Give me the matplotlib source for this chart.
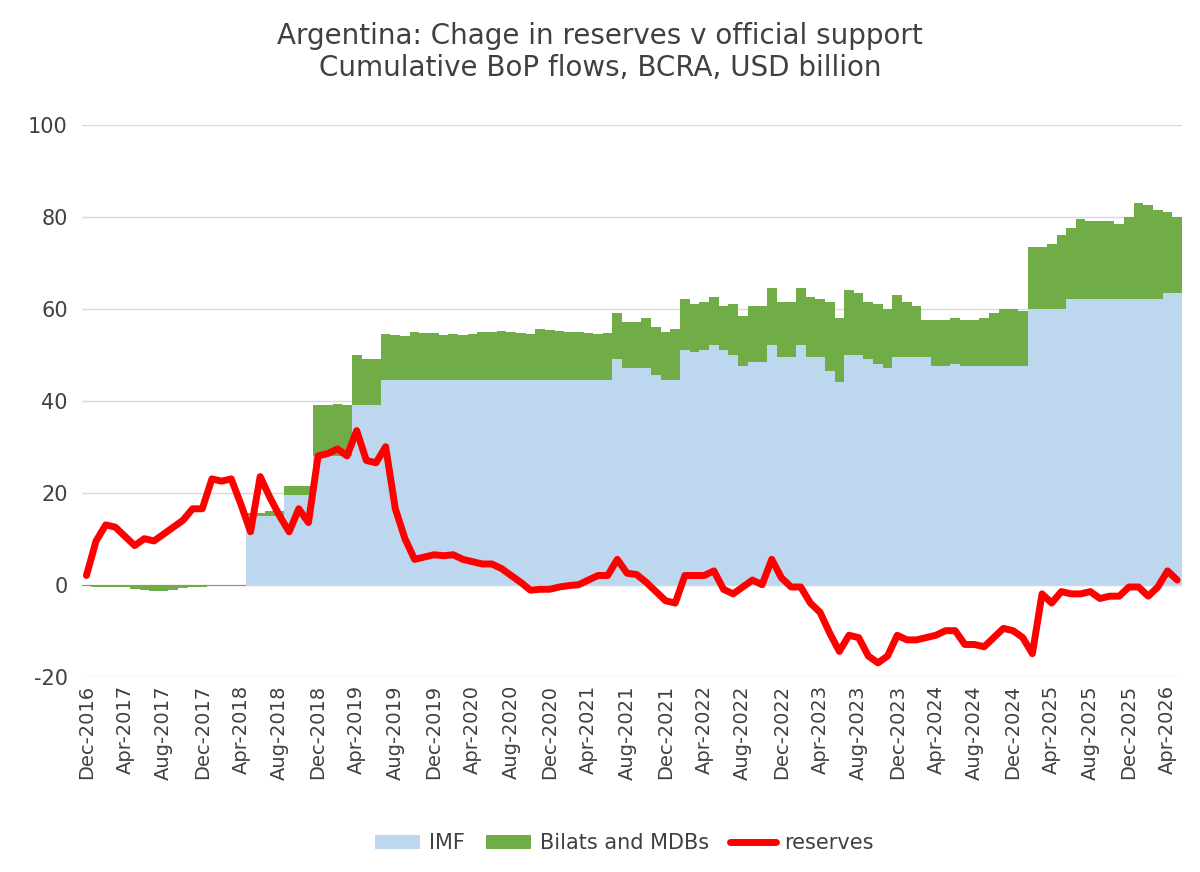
import numpy as np
import pandas as pd
import matplotlib.pyplot as plt

plt.rcParams['axes.unicode_minus'] = False

# monthly, Dec-2016 .. May-2026
months = pd.date_range("2016-12-01", periods=114, freq="MS").strftime("%b-%Y").tolist()

reserves = [2, 9.5, 13, 12.5, 10.5, 8.5, 10, 9.5, 11, 12.5, 14, 16.5, 16.5, 23, 22.5, 23,
            17.5, 11.5, 23.5, 19, 15, 11.5, 16.5, 13.5, 28, 28.5, 29.5, 28, 33.5, 27, 26.5, 30,
            16.5, 10, 5.5, 6, 6.5, 6.3, 6.5, 5.5, 5, 4.5, 4.5, 3.5, 2, 0.5, -1.2, -1, -1, -0.5,
            -0.2, 0, 1, 2, 2, 5.5, 2.5, 2.2, 0.5, -1.5, -3.5, -4, 2, 2, 2, 3, -1, -2, -0.5, 1,
            0, 5.5, 1.5, -0.5, -0.5, -4, -6, -10.5, -14.5, -11, -11.5, -15.5, -17, -15.5, -11, -12,
            -12, -11.5, -11, -10, -10, -13, -13, -13.5, -11.5, -9.5, -10, -11.5, -15, -2, -4, -1.5,
            -2, -2, -1.5, -3, -2.5, -2.5, -0.5, -0.5, -2.5, -0.5, 3, 1]

imf = ([0] * 17 + [15] * 4 + [19.5] * 3 + [28] * 4 + [39] * 3 + [44.5] * 24 +
       [49, 47, 47, 47, 45.5, 44.5, 44.5, 51, 50.5, 51, 52, 51, 50, 47.5, 48.5, 48.5, 52,
        49.5, 49.5, 52, 49.5, 49.5, 46.5, 44, 50, 50, 49, 48, 47, 49.5, 49.5, 49.5, 49.5,
        47.5, 47.5, 48] + [47.5] * 7 + [60] * 4 + [62] * 10 + [63.5] * 2)

total = ([-0.3, -0.4, -0.5, -0.6, -0.4, -1.0, -1.2, -1.3, -1.4, -1.1, -0.8, -0.6, -0.5,
          -0.3, -0.2, -0.3, -0.3] +
         [15.5, 15.5, 16, 16, 21.5, 21.5, 21.5, 39, 39, 39.2, 39, 50, 49, 49,
          54.5, 54.2, 54, 55, 54.8, 54.8, 54.3, 54.5, 54.3, 54.5, 55, 55, 55.2, 55, 54.8, 54.5,
          55.5, 55.3, 55.2, 55, 55, 54.8, 54.5, 54.8, 59, 57, 57, 58, 56, 55, 55.5, 62, 61,
          61.5, 62.5, 60.5, 61, 58.5, 60.5, 60.5, 64.5, 61.5, 61.5, 64.5, 62.5, 62, 61.5, 58,
          64, 63.5, 61.5, 61, 60, 63, 61.5, 60.5, 57.5, 57.5, 57.5, 58, 57.5, 57.5, 58, 59,
          60, 60, 59.5, 73.5, 73.5, 74, 76, 77.5, 79.5, 79, 79, 79, 78.5, 80, 83, 82.5,
          81.5, 81, 80])

imf = np.array(imf)
bilats = np.array(total) - imf
x = np.arange(len(months))

fig = plt.figure(figsize=(12, 8.72), dpi=100)
ax = fig.add_axes([0.068, 0.224, 0.917, 0.633])

h1 = ax.bar(x, imf, width=1.0, color="#BDD7EE", label="IMF", zorder=2)
h2 = ax.bar(x, bilats, width=1.0, bottom=np.where(bilats > 0, imf, 0), color="#70AD47",
            label="Bilats and MDBs", zorder=2)
h3, = ax.plot(x, reserves, color="#FF0000", lw=5, label="reserves", zorder=3,
              solid_joinstyle="round", solid_capstyle="round")

ax.set_xlim(-0.5, len(months) - 0.5)
ax.set_ylim(-20, 100)
ax.set_yticks(range(-20, 101, 20))
ax.yaxis.grid(True, color="#D9D9D9", lw=1, zorder=0)
ax.axhline(0, color="#D9D9D9", lw=1, zorder=1)
ax.set_xticks(x[::4])
ax.set_xticklabels(months[::4], rotation=90, fontsize=14, color="#404040")
ax.tick_params(axis="y", labelsize=15, labelcolor="#404040", length=0, pad=10)
ax.tick_params(axis="x", length=0, pad=6)
for s in ax.spines.values():
    s.set_visible(False)

fig.suptitle("Argentina: Chage in reserves v official support\nCumulative BoP flows, BCRA, USD billion",
             fontsize=20, color="#404040", y=0.975)
leg = fig.legend([h1, h2, h3], ["IMF", "Bilats and MDBs", "reserves"], loc="lower center",
                 ncol=3, frameon=False, fontsize=15, bbox_to_anchor=(0.52, 0.0),
                 handlelength=2.2, columnspacing=1.0, handletextpad=0.4)
for t in leg.get_texts():
    t.set_color("#404040")

fig.savefig("out.png", dpi=100)
